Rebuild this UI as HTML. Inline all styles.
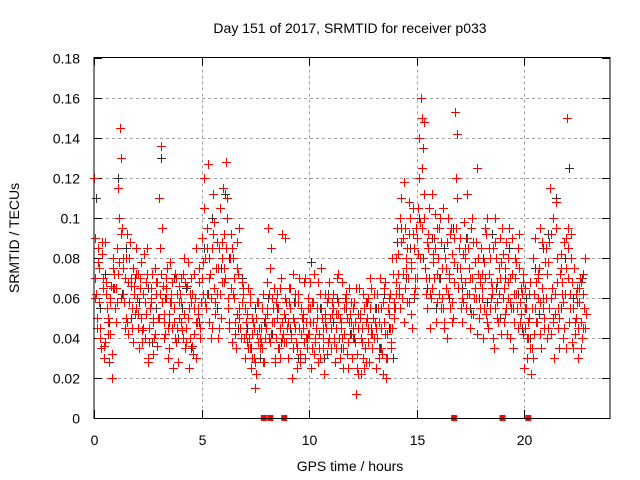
<!DOCTYPE html>
<html><head><meta charset="utf-8"><style>
html,body{margin:0;padding:0;background:#fff;}
svg{display:block;font-family:"Liberation Sans",sans-serif;}
</style></head><body>
<svg id="chart" width="640" height="480" viewBox="0 0 640 480">
<text x="350" y="33" font-size="14" text-anchor="middle" fill="#000">Day 151 of 2017, SRMTID for receiver p033</text>
<text transform="translate(19,238) rotate(-90)" font-size="14" text-anchor="middle" fill="#000">SRMTID / TECUs</text>
<text x="350" y="471" font-size="14" text-anchor="middle" fill="#000">GPS time / hours</text>
<g id="grid"></g>
<g id="ticks"></g>
<g id="darkPts"></g>
<g id="redPts"></g>
<rect x="94" y="57.5" width="516" height="361" fill="none" stroke="#000" stroke-width="1"/>
</svg>
<script>
const xTicks=[0,5,10,15,20];
const yTicks=[0,0.02,0.04,0.06,0.08,0.1,0.12,0.14,0.16,0.18];
const yTickLabels=["0","0.02","0.04","0.06","0.08","0.1","0.12","0.14","0.16","0.18"];
const dt=0.1;
const offA=0.0, offB=0.033, offC=0.067, offD=0.05;
// values in 1e-3 TECU
const seriesA=[120,62,85,45,70,38,55,28,66,80,48,72,145,95,58,80,42,66,75,52,60,35,78,45,68,30,55,72,40,62,50,136,66,42,75,35,58,48,70,28,62,44,80,38,55,70,32,60,48,75,90,120,55,127,72,45,98,62,85,50,115,70,110,48,85,60,35,72,45,58,30,52,40,25,48,15,42,35,55,28,45,95,38,60,28,50,35,70,42,90,30,55,20,48,38,62,28,45,70,35,42,25,58,38,68,30,50,22,45,60,35,55,28,70,40,48,25,62,38,52,30,58,12,45,22,62,35,50,28,65,40,25,55,70,32,48,20,60,38,72,55,95,62,110,48,80,70,100,45,85,90,120,160,135,75,55,105,65,90,48,80,100,60,45,88,70,95,50,153,142,75,60,98,55,85,45,70,65,125,50,85,40,70,100,55,65,35,80,48,90,60,75,42,95,55,35,70,85,48,62,25,55,40,68,30,90,48,75,35,60,85,45,115,65,30,95,55,75,40,62,150,48,80,35,62,45,70,40,55];
const seriesB=[90,50,75,35,65,88,42,58,20,72,65,115,130,80,45,92,58,70,38,85,45,70,38,82,52,28,65,48,75,36,110,72,48,60,30,78,45,55,38,66,48,72,35,66,25,58,42,85,52,40,70,105,62,80,40,112,58,88,45,68,92,128,60,80,38,70,52,95,40,62,55,38,62,30,45,22,58,40,35,50,68,40,85,55,30,62,45,92,38,58,48,65,35,58,25,70,42,52,30,60,55,35,72,45,28,62,40,52,32,68,45,62,35,52,30,68,42,58,25,48,55,38,25,65,40,30,58,45,70,35,62,45,30,55,22,68,42,52,35,58,68,82,100,60,118,75,92,52,105,65,70,140,150,100,62,85,45,112,70,95,62,55,105,80,40,72,58,90,120,65,90,48,80,112,62,95,52,78,42,70,72,55,92,45,80,62,100,50,75,42,82,52,68,40,90,62,78,45,58,72,45,30,62,22,80,55,70,42,88,50,60,78,42,100,52,68,35,82,58,90,95,62,38,75,50,30,68,45,80];
const seriesC=[60,78,40,88,30,62,50,42,75,55,85,100,60,75,50,68,88,45,62,55,72,50,62,40,85,45,58,32,68,50,85,58,40,70,52,62,25,72,45,58,70,52,45,78,40,62,55,30,68,58,62,80,95,48,85,65,75,40,105,80,75,100,45,65,80,42,88,55,68,40,42,65,35,50,28,58,45,38,62,48,55,75,48,65,40,55,30,48,60,45,65,40,72,45,58,32,50,68,40,55,68,48,40,55,35,75,45,62,38,50,58,40,52,72,45,35,60,50,65,42,45,65,22,50,38,55,28,60,42,50,48,62,35,45,65,30,55,45,80,50,80,65,88,72,95,58,108,78,62,95,105,80,95,148,88,70,60,82,102,58,95,75,48,65,100,55,82,68,110,85,55,82,68,90,70,100,60,88,72,55,60,95,48,85,68,40,88,58,70,95,48,88,60,70,35,80,55,92,65,42,65,48,35,55,42,68,60,95,55,78,40,88,60,50,108,45,72,62,88,35,70,92,55,48,65,58,35,72,52];
const seriesD=[70,45,58,82,36,68,48,60,32,65,58,78,92,62,70,48,80,55,66,72,52,65,44,58,72,38,60,50,42,68,62,95,52,65,45,58,68,40,62,50,58,40,68,50,62,36,72,48,55,45,78,58,85,70,60,92,52,75,62,88,68,85,55,92,62,48,75,50,40,65,48,35,58,42,30,50,38,45,28,40,52,62,42,48,58,35,65,40,52,38,58,42,50,62,35,45,55,38,48,42,48,58,32,50,42,55,35,48,58,40,52,38,45,58,50,40,55,32,48,58,40,48,32,52,45,25,48,38,55,42,55,40,48,35,58,42,30,62,45,55,62,72,55,90,65,85,58,75,92,70,82,98,125,112,70,92,62,78,85,72,70,88,55,75,62,92,48,78,95,65,70,58,85,62,75,52,88,60,80,68,65,78,52,72,60,85,55,68,62,78,65,55,80,58,72,48,62,75,52,68,55,40,50,35,62,48,72,58,65,45,72,55,92,48,62,80,50,68,45,75,85,55,68,42,58,65,48,62,45];
const dtDark=0.2, offDark=0.1;
const seriesDark=[110,55,72,48,65,120,62,85,50,70,58,45,65,38,55,130,60,48,70,40,55,65,35,60,48,85,62,100,55,75,112,80,60,45,70,45,35,55,30,48,60,42,55,38,50,45,58,30,50,40,78,40,55,30,62,48,60,35,55,42,40,52,30,58,45,55,35,62,45,30,88,95,70,85,60,100,80,65,90,55,70,85,60,95,75,65,90,55,78,60,80,58,92,65,50,70,85,55,62,45,60,40,75,52,85,92,65,110,55,80,125,60,45,70];
const zeroTimes=[7.9,8.2,8.85,16.75,19.0,20.2];

const NS="http://www.w3.org/2000/svg";
const X0=94,X1=610,Y0=418,Y1=57.5;
function xs(t){return X0+(t/24)*(X1-X0);}
function ys(v){return Y0-(v/0.18)*(Y0-Y1);}
function mk(tag,attrs,parent){const e=document.createElementNS(NS,tag);for(const k in attrs)e.setAttribute(k,attrs[k]);parent.appendChild(e);return e;}
const grid=document.getElementById('grid'),ticks=document.getElementById('ticks');
yTicks.forEach((v,i)=>{
  const y=Math.round(ys(v))+0.5;
  if(i>0&&i<yTicks.length-1){const g=mk('line',{x1:X0,x2:X1,y1:y,y2:y,stroke:'#a0a0a0','stroke-dasharray':'3,3'},grid);
  
  }
  mk('line',{x1:X0,x2:X0+8,y1:y,y2:y,stroke:'#000'},ticks);
  mk('line',{x1:X1-8,x2:X1,y1:y,y2:y,stroke:'#000'},ticks);
  const t=mk('text',{x:80,y:y+5,'font-size':14,'text-anchor':'end',fill:'#000'},ticks);
  t.textContent=yTickLabels[i];
  
  
});
xTicks.forEach(v=>{
  const x=Math.round(xs(v))+0.5;
  if(v>0){const g=mk('line',{x1:x,x2:x,y1:Y1,y2:Y0,stroke:'#a0a0a0','stroke-dasharray':'3,3'},grid);
  
  }
  mk('line',{x1:x,x2:x,y1:Y0-8,y2:Y0,stroke:'#000'},ticks);
  mk('line',{x1:x,x2:x,y1:Y1,y2:Y1+8,stroke:'#000'},ticks);
  const t=mk('text',{x:x,y:445,'font-size':14,'text-anchor':'middle',fill:'#000'},ticks);
  t.textContent=String(v);
  
  
});
function plus(parent,t,v,color,name){
  const x=Math.round(xs(t))+0.5,y=Math.round(ys(v))+0.5;
  const p=mk('path',{d:`M${x-4.5} ${y}H${x+4.5}M${x} ${y-4.5}V${y+4.5}`,stroke:color,'stroke-width':1,fill:'none'},parent);
  
  
}
const dark=document.getElementById('darkPts'),red=document.getElementById('redPts');
seriesDark.forEach((v,i)=>plus(dark,offDark+i*dtDark,v/1000,'#303030','dark-point'));
[[seriesA,offA],[seriesB,offB],[seriesC,offC],[seriesD,offD]].forEach(([s,o])=>s.forEach((v,i)=>plus(red,o+i*dt,v/1000,'#ff0000','red-point')));
zeroTimes.forEach(t=>{
  const r=mk('rect',{x:xs(t)-3,y:Y0-3,width:6,height:6,fill:'#ff0000'},red);
  
  
});
</script>
</body></html>
